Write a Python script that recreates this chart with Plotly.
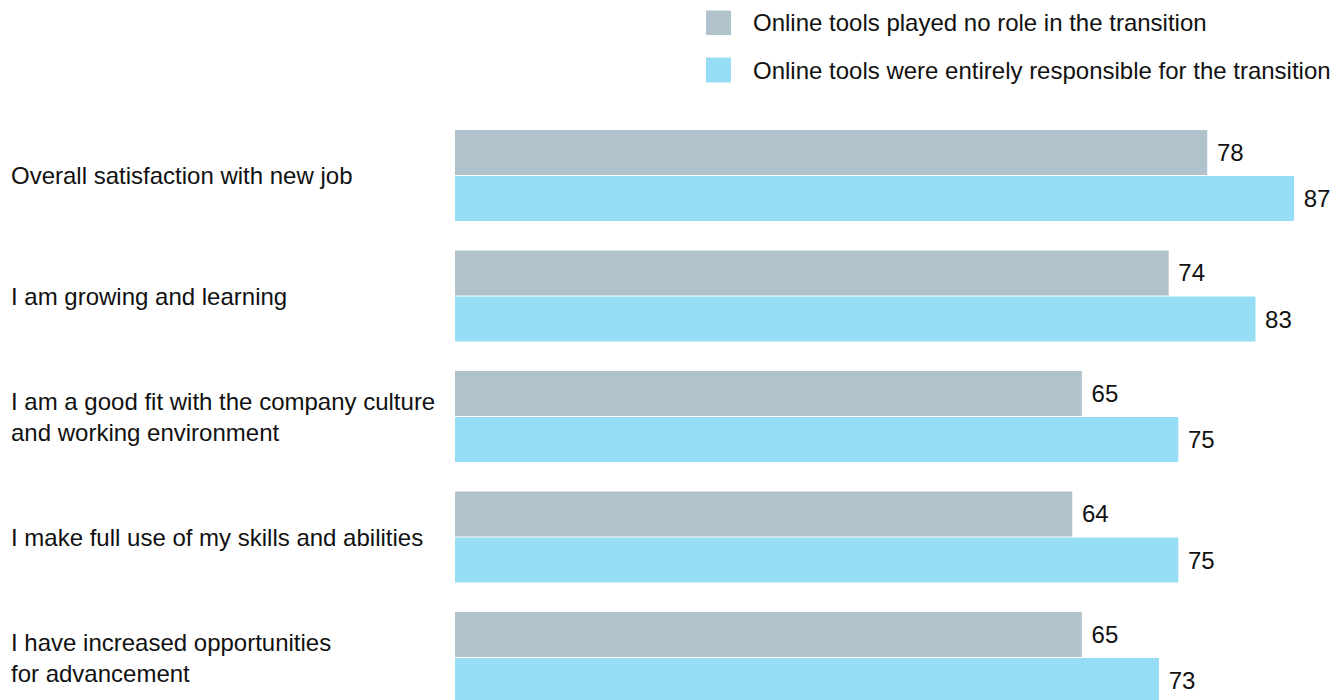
import plotly.graph_objects as go

# Survey statements (top to bottom) and scores per group
categories = [
    "Overall satisfaction with new job",
    "I am growing and learning",
    "I am a good fit with the company culture<br>and working environment",
    "I make full use of my skills and abilities",
    "I have increased opportunities<br>for advancement",
]
no_role = [78, 74, 65, 64, 65]
entirely_responsible = [87, 83, 75, 75, 73]
series_names = [
    "Online tools played no role in the transition",
    "Online tools were entirely responsible for the transition",
]
colors = ["#B0C2CC", "#97DDF5"]

W, H = 1342, 700
ML, MR, MT, MB = 455, 0, 115, 0
FONT = "Liberation Sans, Arial, Helvetica, sans-serif"
FS = 24
TXT = "#111111"

def px_x(p):
    return (p - ML) / (W - ML - MR)

def px_y(p):
    return (H - MB - p) / (H - MT - MB)

fig = go.Figure()
for name, vals, col in zip(series_names, [no_role, entirely_responsible], colors):
    fig.add_trace(go.Bar(
        y=categories, x=vals, orientation="h", name=name,
        marker=dict(color=col, line=dict(width=0)),
        texttemplate=" %{x}", textposition="outside",
        textfont=dict(family=FONT, size=FS, color=TXT),
        constraintext="none", cliponaxis=False,
        hoverinfo="x+name", showlegend=False,
    ))

annotations = []
for cat in categories:
    annotations.append(dict(
        x=px_x(9), xref="paper", y=cat, yref="y",
        text=cat, showarrow=False, xanchor="left", yanchor="middle", align="left",
        font=dict(family=FONT, size=FS, color=TXT),
    ))

shapes = []
legend_rows = [(10.5, 35), (57.5, 82.5)]
for (y0, y1), name, col in zip(legend_rows, series_names, colors):
    shapes.append(dict(
        type="rect", xref="paper", yref="paper",
        x0=px_x(706), x1=px_x(731), y0=px_y(y1), y1=px_y(y0),
        fillcolor=col, line=dict(width=0),
    ))
    annotations.append(dict(
        x=px_x(751), xref="paper", y=px_y((y0 + y1) / 2), yref="paper",
        text=name, showarrow=False, xanchor="left", yanchor="middle",
        font=dict(family=FONT, size=FS, color=TXT),
    ))

fig.update_layout(
    width=W, height=H,
    margin=dict(l=ML, r=MR, t=MT, b=MB, pad=0),
    paper_bgcolor="white", plot_bgcolor="white",
    barmode="group", bargap=0.235, bargroupgap=0.025,
    xaxis=dict(range=[0, (W - ML - MR) / 9.644], visible=False, fixedrange=True),
    yaxis=dict(range=[(700 - 175.5) / 120.5, (115 - 175.5) / 120.5],
               showticklabels=False, showgrid=False, zeroline=False,
               showline=False, ticks="", fixedrange=True),
    annotations=annotations, shapes=shapes,
    font=dict(family=FONT, size=FS, color=TXT),
)

fig.write_html("out.html")
